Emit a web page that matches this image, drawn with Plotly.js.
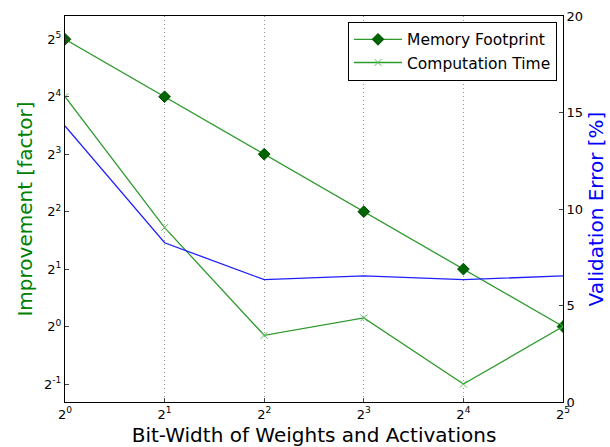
<!DOCTYPE html>
<html><head><meta charset="utf-8">
<script src="https://cdn.plot.ly/plotly-3.0.1.min.js"></script>
<style>body{margin:0;padding:0;background:#fff}#c{width:610px;height:447px}</style>
</head><body><div id="c"></div>
<script>
const bitWidth = [1, 2, 4, 8, 16, 32];
const memoryFootprint = [32, 16, 8, 4, 2, 1];
const computationTime = [16, 3.3, 0.9, 1.11, 0.5, 1];
const validationError = [14.3, 8.25, 6.34, 6.53, 6.34, 6.53];
const xTickVals = [1, 2, 4, 8, 16, 32];
const xTickText = ['2<sup>0</sup>','2<sup>1</sup>','2<sup>2</sup>','2<sup>3</sup>','2<sup>4</sup>','2<sup>5</sup>'];
const yTickVals = [0.5, 1, 2, 4, 8, 16, 32];
const yTickText = ['2<sup>-1</sup>','2<sup>0</sup>','2<sup>1</sup>','2<sup>2</sup>','2<sup>3</sup>','2<sup>4</sup>','2<sup>5</sup>'];
const y2TickVals = [0, 5, 10, 15, 20];

const L = Math.log10(2);
const traces = [
  {x: bitWidth, y: memoryFootprint, name: 'Memory Footprint', mode: 'lines+markers',
   line: {color: '#2e9a2e', width: 1.3},
   marker: {symbol: 'diamond', size: 9, color: '#006400', line: {color: '#004d00', width: 1}}},
  {x: bitWidth, y: computationTime, name: 'Computation Time', mode: 'lines+markers',
   line: {color: '#2e9a2e', width: 1.3},
   marker: {symbol: 'x-thin', size: 7, color: '#5cbf5c', line: {color: '#5cbf5c', width: 1}}},
  {x: bitWidth, y: validationError, name: 'Validation Error', mode: 'lines', yaxis: 'y2',
   showlegend: false, line: {color: '#2020ff', width: 1.3}}
];
const tickFont = {family: 'DejaVu Sans', size: 13, color: '#000'};
const layout = {
  width: 610, height: 447,
  margin: {l: 65, r: 47, t: 16, b: 45},
  paper_bgcolor: '#fff', plot_bgcolor: '#fff',
  font: {family: 'DejaVu Sans', color: '#000'},
  showlegend: true,
  legend: {x: 0.988, y: 0.985, xanchor: 'right', yanchor: 'top', bgcolor: '#fff',
    bordercolor: '#000', borderwidth: 1, font: {family: 'DejaVu Sans', size: 15.5, color: '#000'},
    tracegroupgap: 0, itemwidth: 48},
  xaxis: {type: 'log', range: [0, Math.log10(32)], tickvals: xTickVals, ticktext: xTickText,
    tickfont: tickFont, showgrid: true, gridcolor: '#999', griddash: '1px,3px', gridwidth: 1,
    showline: true, linecolor: '#000', linewidth: 1, mirror: true, ticks: 'inside', ticklen: 4,
    zeroline: false,
    title: {text: 'Bit-Width of Weights and Activations', font: {family: 'DejaVu Sans', size: 20, color: '#000'}, standoff: 8}},
  yaxis: {type: 'log', range: [-1.313 * L, 5.405 * L], tickvals: yTickVals, ticktext: yTickText,
    tickfont: tickFont, showgrid: false, showline: true, linecolor: '#000', linewidth: 1,
    ticks: 'inside', ticklen: 4, zeroline: false,
    title: {text: 'Improvement [factor]', font: {family: 'DejaVu Sans', size: 20, color: '#008000'}, standoff: 6}},
  yaxis2: {overlaying: 'y', side: 'right', range: [0, 20], tickvals: y2TickVals,
    tickfont: tickFont, showgrid: false, showline: true, linecolor: '#000', linewidth: 1,
    ticks: 'inside', ticklen: 4, zeroline: false,
    title: {text: 'Validation Error [%]', font: {family: 'DejaVu Sans', size: 20, color: '#0000ff'}, standoff: 6}}
};
Plotly.newPlot('c', traces, layout, {displayModeBar: false, staticPlot: true});
</script></body></html>
